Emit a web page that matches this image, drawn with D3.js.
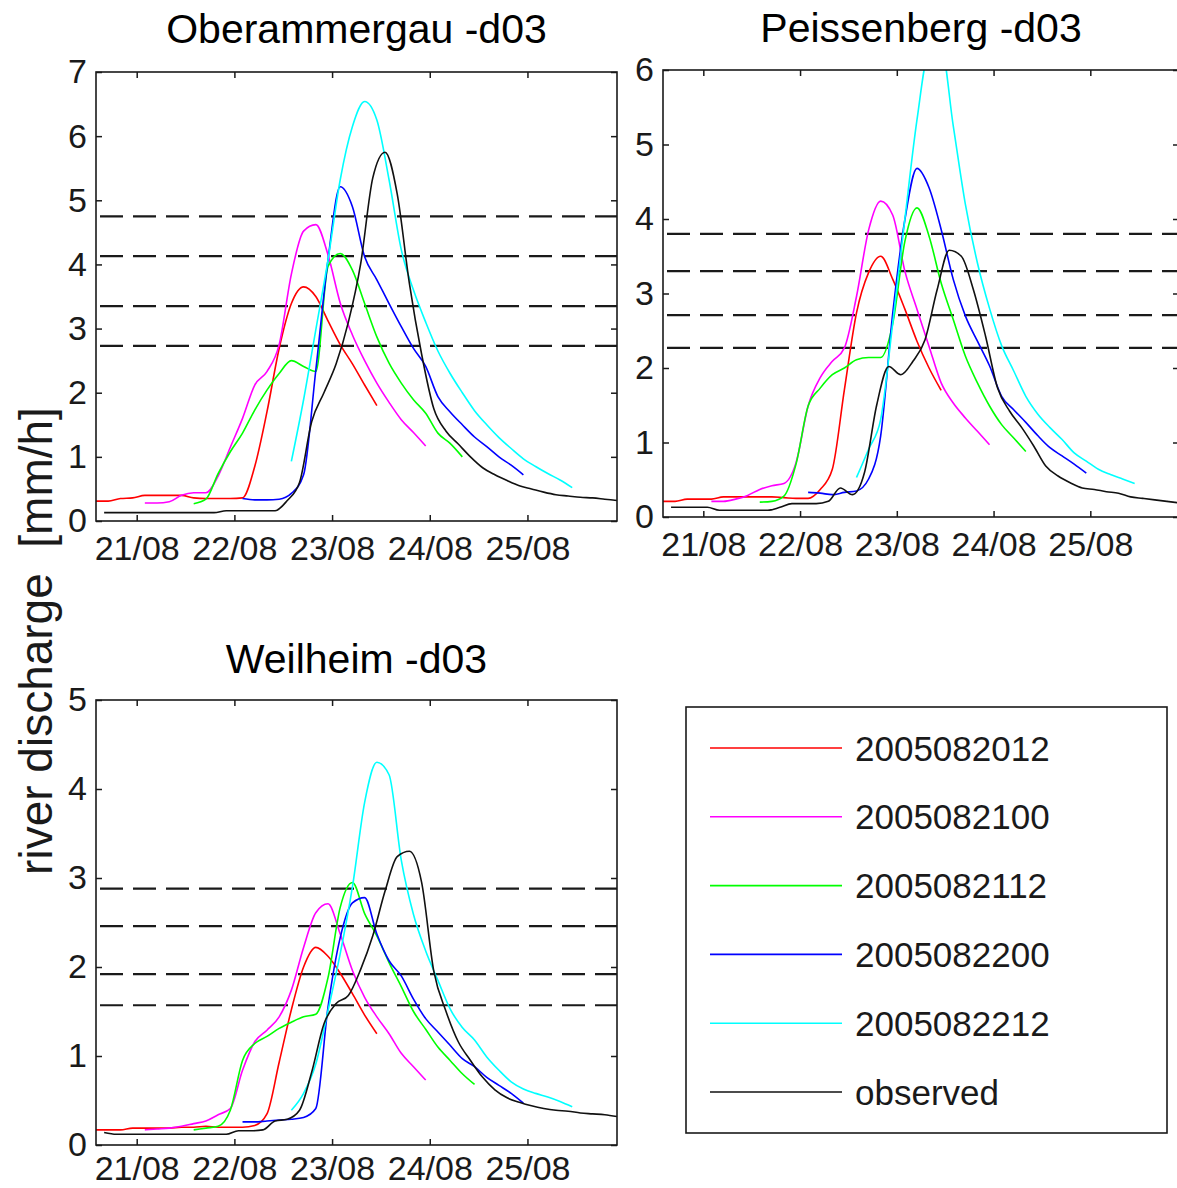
<!DOCTYPE html>
<html>
<head>
<meta charset="utf-8">
<script src="https://cdn.jsdelivr.net/npm/d3@7"></script>
<style>
  html, body { margin: 0; padding: 0; background: #fff; }
  svg { display: block; font-family: "Liberation Sans", Arial, sans-serif; }
</style>
</head>
<body>
<svg id="fig" width="1177" height="1188"></svg>
<script>
// Time axis: hours counted from 20/08/2005 14:00 (local time).
const dayTicks  = [10, 34, 58, 82, 106];
const dayLabels = ['21/08', '22/08', '23/08', '24/08', '25/08'];

// Forecast runs (initialisation time) and their colours.
const runNames  = ['2005082012', '2005082100', '2005082112', '2005082200', '2005082212'];
const runColors = ['#ff0000', '#ff00ff', '#00ff00', '#0000ff', '#00ffff'];
const runStart  = [0, 12, 24, 36, 48];   // first hour of each run
const obsStart  = 2;                     // first hour of the observed record
const stepHours = 3;                     // sampling interval of all series

// ---- Oberammergau: discharge [mm/h] ----
const oberRed     = [0.31,0.31,0.35,0.36,0.40,0.40,0.40,0.40,0.36,0.35,0.35,0.35,0.36,0.85,1.70,2.69,3.39,3.65,3.50,3.12,2.75,2.45,2.12,1.80];
const oberMagenta = [0.28,0.28,0.30,0.40,0.44,0.44,0.70,1.15,1.60,2.12,2.33,2.75,3.85,4.52,4.62,4.15,3.40,2.90,2.50,2.15,1.85,1.58,1.38,1.17];
const oberGreen   = [0.27,0.34,0.74,1.08,1.37,1.73,2.04,2.30,2.50,2.41,2.33,3.97,4.17,3.91,3.39,2.87,2.46,2.15,1.89,1.68,1.37,1.21,1.00];
const oberBlue    = [0.35,0.33,0.33,0.34,0.43,0.72,2.35,4.07,5.21,4.90,4.12,3.76,3.39,3.03,2.69,2.41,1.94,1.70,1.50,1.31,1.16,1.00,0.87,0.72];
const oberCyan    = [0.93,1.89,2.98,4.07,5.32,6.15,6.54,6.25,5.32,4.23,3.60,3.10,2.65,2.30,2.00,1.72,1.50,1.30,1.13,0.97,0.85,0.74,0.64,0.52];
const oberObs     = [0.13,0.13,0.13,0.13,0.13,0.13,0.13,0.13,0.13,0.13,0.16,0.16,0.16,0.16,0.16,0.32,0.60,1.55,2.00,2.45,3.10,4.00,5.35,5.75,5.10,3.70,2.60,1.75,1.40,1.20,1.00,0.83,0.72,0.63,0.55,0.50,0.45,0.41,0.39,0.37,0.36,0.34,0.32];
const oberLevels  = [4.75, 4.13, 3.35, 2.73];

// ---- Peissenberg ----
const peisRed     = [0.21,0.21,0.24,0.24,0.24,0.27,0.27,0.27,0.27,0.27,0.26,0.25,0.25,0.37,0.64,1.71,2.74,3.28,3.50,3.19,2.79,2.36,2.00,1.70];
const peisMagenta = [0.21,0.21,0.24,0.29,0.37,0.42,0.45,0.73,1.49,1.87,2.09,2.27,2.96,3.85,4.24,4.05,3.30,2.79,2.29,1.80,1.53,1.33,1.15,0.97];
const peisGreen   = [0.20,0.21,0.28,0.71,1.49,1.73,1.91,2.00,2.11,2.14,2.14,2.60,3.70,4.15,3.77,3.14,2.65,2.16,1.80,1.49,1.24,1.06,0.88];
const peisBlue    = [0.33,0.32,0.30,0.33,0.35,0.51,1.09,2.74,3.99,4.68,4.42,3.86,3.19,2.70,2.36,2.03,1.62,1.44,1.27,1.09,0.93,0.82,0.71,0.59];
const peisCyan    = [0.53,0.91,1.31,2.61,4.00,5.33,6.25,6.30,5.25,4.20,3.41,2.80,2.30,1.96,1.62,1.38,1.20,1.04,0.86,0.75,0.64,0.57,0.51,0.45];
const peisObs     = [0.13,0.13,0.13,0.13,0.09,0.09,0.09,0.09,0.09,0.13,0.18,0.18,0.18,0.21,0.39,0.30,0.60,1.50,2.02,1.91,2.09,2.38,3.05,3.58,3.50,3.05,2.43,1.73,1.42,1.20,0.95,0.68,0.55,0.46,0.39,0.37,0.34,0.32,0.27,0.25,0.23,0.21,0.19];
const peisLevels  = [3.80, 3.30, 2.71, 2.27];

// ---- Weilheim ----
const weilRed     = [0.17,0.17,0.17,0.19,0.19,0.19,0.19,0.20,0.20,0.21,0.20,0.20,0.20,0.22,0.35,0.93,1.52,2.00,2.22,2.12,1.93,1.70,1.46,1.25];
const weilMagenta = [0.17,0.18,0.19,0.21,0.24,0.27,0.34,0.41,0.84,1.16,1.29,1.44,1.74,2.22,2.61,2.71,2.37,1.96,1.66,1.44,1.25,1.03,0.88,0.73];
const weilGreen   = [0.17,0.19,0.21,0.39,0.95,1.14,1.22,1.31,1.38,1.44,1.47,1.88,2.67,2.95,2.60,2.35,2.05,1.78,1.50,1.30,1.10,0.95,0.80,0.68];
const weilBlue    = [0.26,0.26,0.27,0.28,0.29,0.31,0.41,1.55,2.33,2.72,2.78,2.37,2.07,1.90,1.64,1.42,1.27,1.12,0.97,0.88,0.76,0.67,0.58,0.47];
const weilCyan    = [0.39,0.58,0.91,1.51,2.15,2.90,3.85,4.30,4.16,3.20,2.59,2.18,1.85,1.53,1.32,1.18,0.99,0.84,0.71,0.63,0.58,0.54,0.49,0.43];
const weilObs     = [0.14,0.12,0.12,0.12,0.12,0.12,0.12,0.12,0.12,0.12,0.12,0.16,0.16,0.17,0.27,0.29,0.39,0.82,1.36,1.59,1.68,1.97,2.35,2.85,3.24,3.30,2.95,1.95,1.50,1.16,0.95,0.76,0.62,0.53,0.48,0.44,0.41,0.39,0.38,0.36,0.35,0.34,0.32];
const weilLevels  = [2.88, 2.46, 1.92, 1.57];

const panels = [
  { title: 'Oberammergau -d03', ymax: 7, runs: [oberRed, oberMagenta, oberGreen, oberBlue, oberCyan], obs: oberObs, levels: oberLevels,
    box: { left: 96, right: 617, top: 72, bottom: 521 }, titleY: 43, pad: 15 },
  { title: 'Peissenberg -d03', ymax: 6, runs: [peisRed, peisMagenta, peisGreen, peisBlue, peisCyan], obs: peisObs, levels: peisLevels,
    box: { left: 663, right: 1179, top: 70, bottom: 517 }, titleY: 42, pad: 15 },
  { title: 'Weilheim -d03', ymax: 5, runs: [weilRed, weilMagenta, weilGreen, weilBlue, weilCyan], obs: weilObs, levels: weilLevels,
    box: { left: 96, right: 617, top: 700, bottom: 1145 }, titleY: 673, pad: 11 }
];

const svg = d3.select('#fig');
const ink = '#1a1a1a';
const tickFont = 34;

function toPoints(values, start) {
  return values.map((v, i) => ({ t: start + i * stepHours, v }));
}

panels.forEach((p, pi) => {
  const b = p.box;
  const x = d3.scaleLinear().domain([0, 128]).range([b.left, b.right]);
  const y = d3.scaleLinear().domain([0, p.ymax]).range([b.bottom, b.top]);

  const clipId = 'clip' + pi;
  svg.append('clipPath').attr('id', clipId)
    .append('rect').attr('x', b.left).attr('y', b.top)
    .attr('width', b.right - b.left).attr('height', b.bottom - b.top);

  const g = svg.append('g');
  const plot = g.append('g').attr('clip-path', `url(#${clipId})`);

  const line = d3.line().x(d => x(d.t)).y(d => y(d.v)).curve(d3.curveMonotoneX);

  // warning thresholds
  plot.selectAll('line.level').data(p.levels).join('line')
    .attr('class', 'level')
    .attr('x1', b.left).attr('x2', b.right)
    .attr('y1', d => y(d)).attr('y2', d => y(d))
    .attr('stroke', ink).attr('stroke-width', 2.2)
    .attr('stroke-dasharray', '23,10').attr('stroke-dashoffset', -4);

  // forecast runs
  p.runs.forEach((vals, ri) => {
    plot.append('path').datum(toPoints(vals, runStart[ri]))
      .attr('d', line).attr('fill', 'none')
      .attr('stroke', runColors[ri]).attr('stroke-width', 1.6);
  });

  // observed discharge
  plot.append('path').datum(toPoints(p.obs, obsStart))
    .attr('d', line).attr('fill', 'none')
    .attr('stroke', '#111').attr('stroke-width', 1.6);

  // axes: labelled bottom/left, inward ticks on all four sides
  const yTicks = d3.range(0, p.ymax + 1);
  const axB = g.append('g').attr('transform', `translate(0,${b.bottom})`)
    .call(d3.axisBottom(x).tickValues(dayTicks).tickFormat((d, i) => dayLabels[i])
      .tickSizeInner(-6).tickSizeOuter(0).tickPadding(p.pad));
  const axT = g.append('g').attr('transform', `translate(0,${b.top})`)
    .call(d3.axisTop(x).tickValues(dayTicks).tickFormat('').tickSizeInner(-6).tickSizeOuter(0));
  const axL = g.append('g').attr('transform', `translate(${b.left},0)`)
    .call(d3.axisLeft(y).tickValues(yTicks).tickFormat(d3.format('d'))
      .tickSizeInner(-6).tickSizeOuter(0).tickPadding(9));
  const axR = g.append('g').attr('transform', `translate(${b.right},0)`)
    .call(d3.axisRight(y).tickValues(yTicks).tickFormat('').tickSizeInner(-6).tickSizeOuter(0));

  [axB, axT, axL, axR].forEach(a => {
    a.select('.domain').remove();
    a.selectAll('line').attr('stroke', ink).attr('stroke-width', 1.5);
    a.selectAll('text').attr('fill', ink).style('font-size', tickFont + 'px')
      .style('font-family', '"Liberation Sans", Arial, sans-serif');
  });

  g.append('rect')
    .attr('x', b.left).attr('y', b.top)
    .attr('width', b.right - b.left).attr('height', b.bottom - b.top)
    .attr('fill', 'none').attr('stroke', ink).attr('stroke-width', 1.6);

  g.append('text')
    .attr('x', (b.left + b.right) / 2).attr('y', p.titleY)
    .attr('text-anchor', 'middle').attr('fill', '#000')
    .style('font-size', '41px')
    .text(p.title);
});

// shared y-axis label
svg.append('text')
  .attr('transform', 'translate(52,641) rotate(-90)')
  .attr('text-anchor', 'middle').attr('fill', ink)
  .style('font-size', '46px')
  .style('white-space', 'pre')
  .text('river discharge  [mm/h]');

// legend
const legBox = { left: 686, top: 707, right: 1167, bottom: 1133 };
const legNames  = runNames.concat(['observed']);
const legColors = runColors.concat(['#111']);
const legY = d3.scalePoint().domain(d3.range(legNames.length)).range([748, 1092]);

const leg = svg.append('g');
leg.append('rect')
  .attr('x', legBox.left).attr('y', legBox.top)
  .attr('width', legBox.right - legBox.left).attr('height', legBox.bottom - legBox.top)
  .attr('fill', '#fff').attr('stroke', ink).attr('stroke-width', 1.6);
const items = leg.selectAll('g.item').data(legNames).join('g')
  .attr('class', 'item')
  .attr('transform', (d, i) => `translate(0,${legY(i)})`);
items.append('line')
  .attr('x1', 710).attr('x2', 842).attr('y1', 0).attr('y2', 0)
  .attr('stroke', (d, i) => legColors[i]).attr('stroke-width', 1.6);
items.append('text')
  .attr('x', 855).attr('y', 0).attr('dy', '0.36em')
  .attr('fill', ink).style('font-size', '35px')
  .text(d => d);
</script>
</body>
</html>
